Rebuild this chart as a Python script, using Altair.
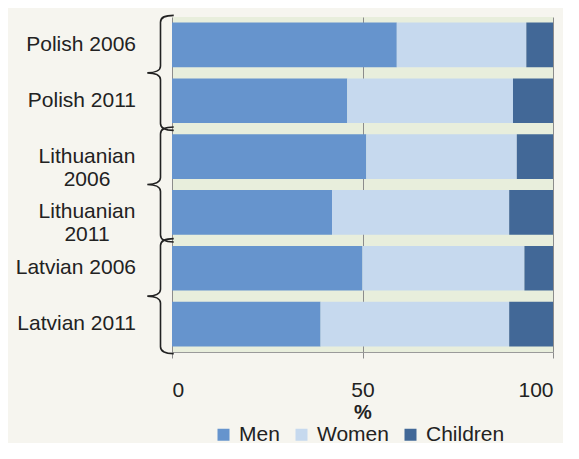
import altair as alt
import pandas as pd

categories = ["Polish 2006", "Polish 2011", "Lithuanian 2006", "Lithuanian 2011", "Latvian 2006", "Latvian 2011"]
label_text = ["Polish 2006", "Polish 2011", "Lithuanian\n2006", "Lithuanian\n2011", "Latvian 2006", "Latvian 2011"]
groups = ["Men", "Women", "Children"]
men = [59, 46, 51, 42, 50, 39]
women = [34, 43.5, 39.5, 46.5, 42.5, 49.5]
children = [7, 10.5, 9.5, 11.5, 7.5, 11.5]
x_ticks = [0, 50, 100]
brace_at = ["Polish 2006", "Lithuanian 2006", "Latvian 2006"]
colors = ["#6694cd", "#c6d9ee", "#426897"]

rows = []
for i, c in enumerate(categories):
    for j, (g, vals) in enumerate(zip(groups, [men, women, children])):
        rows.append({"cat": c, "group": g, "value": vals[i], "ord": j})
df = pd.DataFrame(rows)

lab = pd.DataFrame({"cat": categories, "label": label_text,
                    "multi": ["\n" in t for t in label_text]})
braces = pd.DataFrame({"cat": brace_at})

yscale = alt.Scale(domain=categories, paddingInner=0, paddingOuter=0)

bars = alt.Chart(df).mark_bar(height={"band": 0.8}).encode(
    x=alt.X("value:Q", stack="zero",
            scale=alt.Scale(domain=[0, 100], nice=False),
            axis=alt.Axis(values=x_ticks, grid=True, gridColor="#8c8c8c", gridWidth=1,
                          tickColor="#8c8c8c", tickSize=6, domainColor="#9a9a9a",
                          labelFontSize=21, labelColor="#222222", labelPadding=21,
                          labelFont="Liberation Sans",
                          title="%", titleFontSize=20, titleFontWeight="bold",
                          titleFont="Liberation Sans", titleColor="#222222",
                          titleY=50, titleBaseline="top")),
    y=alt.Y("cat:N", scale=yscale, sort=categories,
            axis=alt.Axis(labels=False, title=None, ticks=True, tickSize=7,
                          tickColor="#9a9a9a", domainColor="#8c8c8c",
                          bandPosition=0, grid=False)),
    color=alt.Color("group:N", scale=alt.Scale(domain=groups, range=colors),
                    legend=alt.Legend(title=None, orient="none", direction="horizontal",
                                      legendX=41, legendY=407, symbolType="square",
                                      symbolSize=144, symbolStrokeWidth=0,
                                      labelFontSize=21, labelColor="#222222",
                                      labelFont="Liberation Sans", labelOffset=5,
                                      columnPadding=11)),
    order=alt.Order("ord:Q"),
)

single = alt.Chart(lab).transform_filter("!datum.multi").mark_text(
    align="right", baseline="middle", fontSize=21, font="Liberation Sans", color="#222222"
).encode(
    y=alt.Y("cat:N", scale=yscale, sort=categories, axis=None),
    x=alt.value(-36),
    text="label:N",
)

multi = alt.Chart(lab).transform_filter("datum.multi").mark_text(
    align="center", baseline="middle", fontSize=21, font="Liberation Sans", color="#222222",
    lineBreak="\n", lineHeight=23
).encode(
    y=alt.Y("cat:N", scale=yscale, sort=categories, axis=None),
    x=alt.value(-85),
    text="label:N",
)

brace_path = ("M0.23,-1 C0.08,-1 0,-0.97 0,-0.88 L0,-0.12 C0,-0.04 -0.1,0 -0.23,0 "
              "C-0.1,0 0,0.04 0,0.12 L0,0.88 C0,0.97 0.08,1 0.23,1")
brace = alt.Chart(braces).mark_point(
    shape=brace_path, filled=False, size=13225, stroke="#222222", strokeWidth=1.6, opacity=1
).encode(
    y=alt.Y("cat:N", scale=yscale, sort=categories, axis=None, bandPosition=1),
    x=alt.value(-11.5),
)

chart = alt.layer(bars, single, multi, brace).properties(
    width=381, height=335,
    autosize=alt.AutoSizeParams(type="none"),
    padding={"left": 164, "top": 9, "right": 10, "bottom": 91},
    background="#f6f5ef",
).configure_view(fill="#e8eedc", stroke=None)

chart.save("out.html", embed_options={"renderer": "svg", "actions": False})
